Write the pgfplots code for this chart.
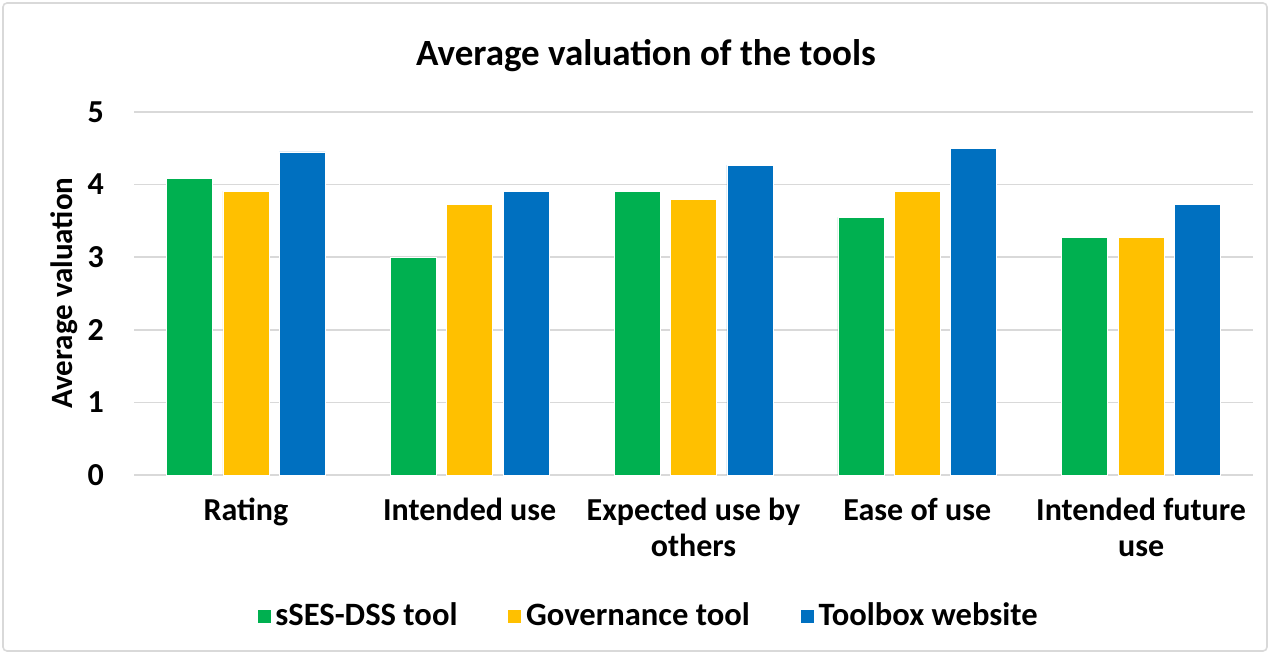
\documentclass[border=0pt]{standalone}
\usepackage{pgfplots}
\pgfplotsset{compat=1.18}
\usepackage{fontspec}
\setmainfont{Carlito}
\definecolor{cgreen}{HTML}{00B050}
\definecolor{cyellow}{HTML}{FFC000}
\definecolor{cblue}{HTML}{0070C0}
\definecolor{cgrid}{HTML}{D9D9D9}
\begin{document}
\begin{tikzpicture}
\useasboundingbox (0,0) rectangle (635pt,327pt);
\draw[cgrid, line width=0.8pt, rounded corners=2pt] (1.5pt,1.5pt) rectangle (633.5pt,325.5pt);
\node[font=\fontsize{18.5}{22}\selectfont\bfseries] at (323pt,299pt) {Average valuation of the tools};
\node[font=\fontsize{15.5}{18}\selectfont\bfseries, rotate=90] at (32pt,180.5pt) {Average valuation};
\begin{axis}[
  at={(67pt,89.5pt)}, anchor=south west,
  scale only axis, width=559.5pt, height=181.5pt,
  ybar=5.2pt, bar width=23pt,
  xmin=-0.5, xmax=4.5, ymin=0, ymax=5,
  xtick={0,1,2,3,4},
  xticklabels={Rating, Intended use, {Expected use by\\others}, Ease of use, {Intended future\\use}},
  ytick={0,1,2,3,4,5},
  ymajorgrids, grid style={cgrid, line width=0.8pt},
  axis x line*=bottom, axis y line*=left,
  y axis line style={draw=none},
  x axis line style={cgrid, line width=0.8pt, -},
  major tick length=0pt,
  tick style={draw=none},
  /pgf/number format/assume math mode=true,
  ticklabel style={font=\fontsize{16}{18}\selectfont\bfseries},
  xticklabel style={align=center, yshift=-8pt},
  yticklabel style={xshift=-11.5pt},
  legend style={at={(0.4605,-0.388)}, anchor=center, legend columns=-1, draw=none,
    font=\fontsize{16.3}{19}\selectfont\bfseries, /tikz/every even column/.append style={column sep=23pt}},
  legend image code/.code={\fill[#1] (0pt,-3.5pt) rectangle (7pt,3.5pt);},
]
\addplot[fill=cgreen, draw=white, line width=0.3pt] coordinates {(0,4.09) (1,3.0) (2,3.91) (3,3.55) (4,3.27)};
\addplot[fill=cyellow, draw=white, line width=0.3pt] coordinates {(0,3.91) (1,3.73) (2,3.80) (3,3.91) (4,3.27)};
\addplot[fill=cblue, draw=white, line width=0.3pt] coordinates {(0,4.45) (1,3.91) (2,4.27) (3,4.50) (4,3.73)};
\legend{sSES-DSS tool, Governance tool, Toolbox website}
\end{axis}
\end{tikzpicture}
\end{document}
